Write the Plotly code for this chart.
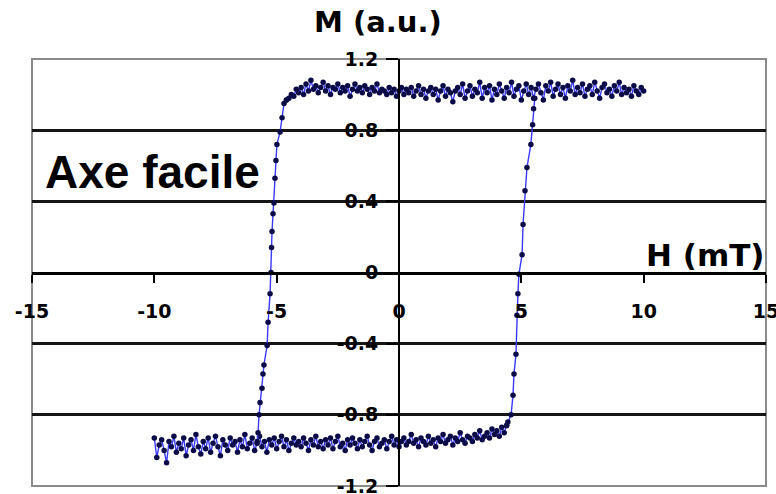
import plotly.graph_objects as go

# ---------------- data ----------------
# upper branch (M ~ +1), H in mT
upper_h = [-4.6, -4.5, -4.4, -4.3, -4.2, -4.1, -4.0, -3.9, -3.8, -3.7,
           -3.6, -3.5, -3.4, -3.3, -3.2, -3.1, -3.0, -2.9, -2.8, -2.7,
           -2.6, -2.5, -2.4, -2.3, -2.2, -2.1, -2.0, -1.9, -1.8, -1.7,
           -1.6, -1.5, -1.4, -1.3, -1.2, -1.1, -1.0, -0.9, -0.8, -0.7,
           -0.6, -0.5, -0.4, -0.3, -0.2, -0.1, 0.0, 0.1, 0.2, 0.3,
           0.4, 0.5, 0.6, 0.7, 0.8, 0.9, 1.0, 1.1, 1.2, 1.3,
           1.4, 1.5, 1.6, 1.7, 1.8, 1.9, 2.0, 2.1, 2.2, 2.3,
           2.4, 2.5, 2.6, 2.7, 2.8, 2.9, 3.0, 3.1, 3.2, 3.3,
           3.4, 3.5, 3.6, 3.7, 3.8, 3.9, 4.0, 4.1, 4.2, 4.3,
           4.4, 4.5, 4.6, 4.7, 4.8, 4.9, 5.0, 5.1, 5.2, 5.3,
           5.4, 5.5, 5.6, 5.7, 5.8, 5.9, 6.0, 6.1, 6.2, 6.3,
           6.4, 6.5, 6.6, 6.7, 6.8, 6.9, 7.0, 7.1, 7.2, 7.3,
           7.4, 7.5, 7.6, 7.7, 7.8, 7.9, 8.0, 8.1, 8.2, 8.3,
           8.4, 8.5, 8.6, 8.7, 8.8, 8.9, 9.0, 9.1, 9.2, 9.3,
           9.4, 9.5, 9.6, 9.7, 9.8, 9.9, 10.0]
upper_m = [0.97, 0.98, 1.00, 0.99, 1.03, 1.01, 1.04, 1.00, 1.06, 1.02,
           1.08, 1.03, 1.05, 1.01, 1.04, 1.07, 1.02, 1.05, 1.00, 1.04,
           1.03, 1.06, 1.01, 1.04, 1.02, 1.05, 0.99, 1.03, 1.06, 1.02,
           1.04, 1.01, 1.05, 1.03, 1.00, 1.04, 1.02, 1.06, 1.01, 1.03,
           1.02, 1.00, 1.04, 1.01, 1.03, 0.99, 1.02, 1.04, 1.00, 1.03,
           1.01, 1.04, 0.99, 1.02, 1.05, 1.00, 1.03, 0.98, 1.02, 1.04,
           1.00, 1.03, 0.97, 1.02, 1.05, 0.99, 1.03, 1.01, 0.96, 1.02,
           1.04, 1.00, 1.06, 0.98, 1.02, 1.05, 0.99, 1.03, 1.01, 1.07,
           0.98, 1.04, 1.01, 1.05, 0.97, 1.03, 1.00, 1.06, 1.02, 0.98,
           1.04, 1.01, 1.07, 0.99, 1.03, 1.05, 0.97, 1.02, 1.06, 1.00,
           1.04, 0.98, 1.03, 1.06, 1.01, 0.97, 1.05, 1.02, 1.07, 0.99,
           1.03, 1.06, 1.00, 1.04, 0.98, 1.05, 1.02, 1.08, 1.00, 1.04,
           1.01, 1.06, 0.99, 1.03, 1.05, 1.00, 1.07, 1.02, 0.98, 1.04,
           1.06, 1.01, 1.03, 0.99, 1.05, 1.02, 1.07, 1.00, 1.04, 1.01,
           1.03, 0.99, 1.05, 1.02, 1.00, 1.04, 1.02]

# lower branch (M ~ -1)
lower_h = [-10.0, -9.9, -9.8, -9.7, -9.6, -9.5, -9.4, -9.3, -9.2, -9.1,
           -9.0, -8.9, -8.8, -8.7, -8.6, -8.5, -8.4, -8.3, -8.2, -8.1,
           -8.0, -7.9, -7.8, -7.7, -7.6, -7.5, -7.4, -7.3, -7.2, -7.1,
           -7.0, -6.9, -6.8, -6.7, -6.6, -6.5, -6.4, -6.3, -6.2, -6.1,
           -6.0, -5.9, -5.8, -5.7, -5.6, -5.5, -5.4, -5.3, -5.2, -5.1,
           -5.0, -4.9, -4.8, -4.7, -4.6, -4.5, -4.4, -4.3, -4.2, -4.1,
           -4.0, -3.9, -3.8, -3.7, -3.6, -3.5, -3.4, -3.3, -3.2, -3.1,
           -3.0, -2.9, -2.8, -2.7, -2.6, -2.5, -2.4, -2.3, -2.2, -2.1,
           -2.0, -1.9, -1.8, -1.7, -1.6, -1.5, -1.4, -1.3, -1.2, -1.1,
           -1.0, -0.9, -0.8, -0.7, -0.6, -0.5, -0.4, -0.3, -0.2, -0.1,
           0.0, 0.1, 0.2, 0.3, 0.4, 0.5, 0.6, 0.7, 0.8, 0.9,
           1.0, 1.1, 1.2, 1.3, 1.4, 1.5, 1.6, 1.7, 1.8, 1.9,
           2.0, 2.1, 2.2, 2.3, 2.4, 2.5, 2.6, 2.7, 2.8, 2.9,
           3.0, 3.1, 3.2, 3.3, 3.4, 3.5, 3.6, 3.7, 3.8, 3.9,
           4.0, 4.1, 4.2, 4.3, 4.4]
lower_m = [-0.93, -1.04, -0.97, -0.94, -1.00, -1.07, -0.95, -0.98, -0.92, -1.01,
           -0.96, -0.99, -0.93, -1.03, -0.97, -0.94, -1.00, -0.91, -0.98, -1.02,
           -0.95, -0.99, -0.93, -1.01, -0.96, -0.92, -0.98, -1.03, -0.94, -0.97,
           -1.00, -0.93, -0.97, -0.95, -1.01, -0.94, -0.98, -0.91, -0.99, -0.96,
           -0.93, -1.00, -0.96, -0.92, -0.98, -0.95, -1.01, -0.94, -0.97, -0.93,
           -0.99, -0.95, -0.92, -0.98, -0.94, -1.00, -0.96, -0.93, -0.97, -0.95,
           -0.98, -0.93, -0.96, -1.00, -0.94, -0.97, -0.92, -0.98, -0.95, -0.99,
           -0.94, -0.97, -0.93, -0.99, -0.95, -0.92, -0.98, -0.96, -1.00, -0.94,
           -0.97, -0.93, -0.96, -0.99, -0.94, -0.98, -0.95, -0.92, -0.97, -1.00,
           -0.95, -0.93, -0.98, -0.96, -0.94, -0.99, -0.95, -0.92, -0.97, -0.94,
           -0.98, -0.95, -0.93, -0.97, -0.95, -0.91, -0.96, -0.94, -0.98, -0.93,
           -0.95, -0.97, -0.92, -0.96, -0.94, -0.98, -0.93, -0.95, -0.91, -0.96,
           -0.94, -0.92, -0.97, -0.93, -0.95, -0.90, -0.94, -0.96, -0.92, -0.93,
           -0.95, -0.91, -0.93, -0.89, -0.94, -0.92, -0.90, -0.93, -0.88, -0.91,
           -0.89, -0.92, -0.87, -0.90, -0.86]

# switching at negative field (descending)
left_h = [-4.60, -4.70, -4.78, -4.86, -4.99, -5.03, -5.07, -5.11, -5.15, -5.19, -5.21,
          -5.23, -5.27, -5.35, -5.39, -5.52, -5.56, -5.60, -5.68, -5.72, -5.76, -5.80]
left_m = [0.97, 0.95, 0.87, 0.79, 0.72, 0.63, 0.53, 0.39, 0.33, 0.23, 0.14,
          0.00, -0.12, -0.28, -0.41, -0.52, -0.57, -0.65, -0.73, -0.80, -0.90, -0.95]

# switching at positive field (ascending)
right_h = [4.40, 4.45, 4.58, 4.66, 4.70, 4.78, 4.82, 4.86, 4.90, 5.03, 5.07,
           5.15, 5.23, 5.39, 5.46, 5.50, 5.55]
right_m = [-0.86, -0.84, -0.80, -0.69, -0.57, -0.46, -0.24, -0.12, -0.01, 0.10, 0.27,
           0.46, 0.59, 0.72, 0.83, 0.92, 0.98]

x_ticks = [-15, -10, -5, 0, 5, 10, 15]
x_tick_text = ["-15", "-10", "-5", "0", "5", "10", "15"]
y_ticks = [-1.2, -0.8, -0.4, 0, 0.4, 0.8, 1.2]
y_tick_text = ["-1.2", "-0.8", "-0.4", "0", "0.4", "0.8", "1.2"]
grid_vals = [-0.8, -0.4, 0.4, 0.8]

# ---------------- figure ----------------
LINE_C = "#3a3aff"
MARK_C = "#0b0b48"
FONT = "Arial, Liberation Sans, sans-serif"
WIDE = "DejaVu Sans, sans-serif"

fig = go.Figure()
for hx, my in [(upper_h, upper_m), (lower_h, lower_m), (left_h, left_m), (right_h, right_m)]:
    fig.add_trace(go.Scatter(
        x=hx, y=my, mode="lines+markers",
        line=dict(color=LINE_C, width=1.4),
        marker=dict(color=MARK_C, size=5.5, line=dict(width=0)),
        showlegend=False, hoverinfo="skip"))

fig.update_layout(
    width=776, height=494,
    margin=dict(l=32, r=10, t=59, b=8, autoexpand=False),
    paper_bgcolor="white", plot_bgcolor="white",
    showlegend=False,
    xaxis=dict(range=[-15, 15], anchor="free", position=0.5, automargin=False,
               showline=True, linecolor="black", linewidth=3,
               ticks="outside", ticklen=8, tickwidth=2, tickcolor="black",
               tickvals=x_ticks, ticktext=x_tick_text,
               tickfont=dict(family=WIDE, size=19, color="black", weight=700),
               ticklabelstandoff=13, ticklabeloverflow="allow",
               showgrid=False, zeroline=False),
    yaxis=dict(range=[-1.2, 1.2], anchor="free", position=0.5, automargin=False,
               showline=True, linecolor="black", linewidth=2,
               ticks="outside", ticklen=12, tickwidth=2, tickcolor="black",
               tickvals=y_ticks, ticktext=y_tick_text,
               tickfont=dict(family=WIDE, size=19, color="black", weight=700),
               ticklabelstandoff=4, ticklabeloverflow="allow",
               showgrid=False, zeroline=False,
               minor=dict(tickvals=grid_vals, showgrid=True,
                          gridcolor="#151515", gridwidth=2.5, ticks="")),
    shapes=[dict(type="rect", xref="paper", yref="paper", x0=0, x1=1, y0=0, y1=1,
                 line=dict(color="#8a8a8a", width=2), layer="below")],
    annotations=[
        dict(text="M (a.u.)", xref="paper", yref="paper", x=0.471, y=1.087,
             showarrow=False, xanchor="center", yanchor="middle",
             font=dict(family=WIDE, size=29, color="black", weight=700)),
        dict(text="H (mT)", xref="paper", yref="paper", x=0.917, y=0.541,
             showarrow=False, xanchor="center", yanchor="middle",
             font=dict(family=WIDE, size=31, color="black", weight=700)),
        dict(text="Axe facile", xref="paper", yref="paper", x=0.1635, y=0.735,
             showarrow=False, xanchor="center", yanchor="middle",
             font=dict(family=FONT, size=46, color="black", weight=700)),
    ],
)

fig.write_html("out.html")
